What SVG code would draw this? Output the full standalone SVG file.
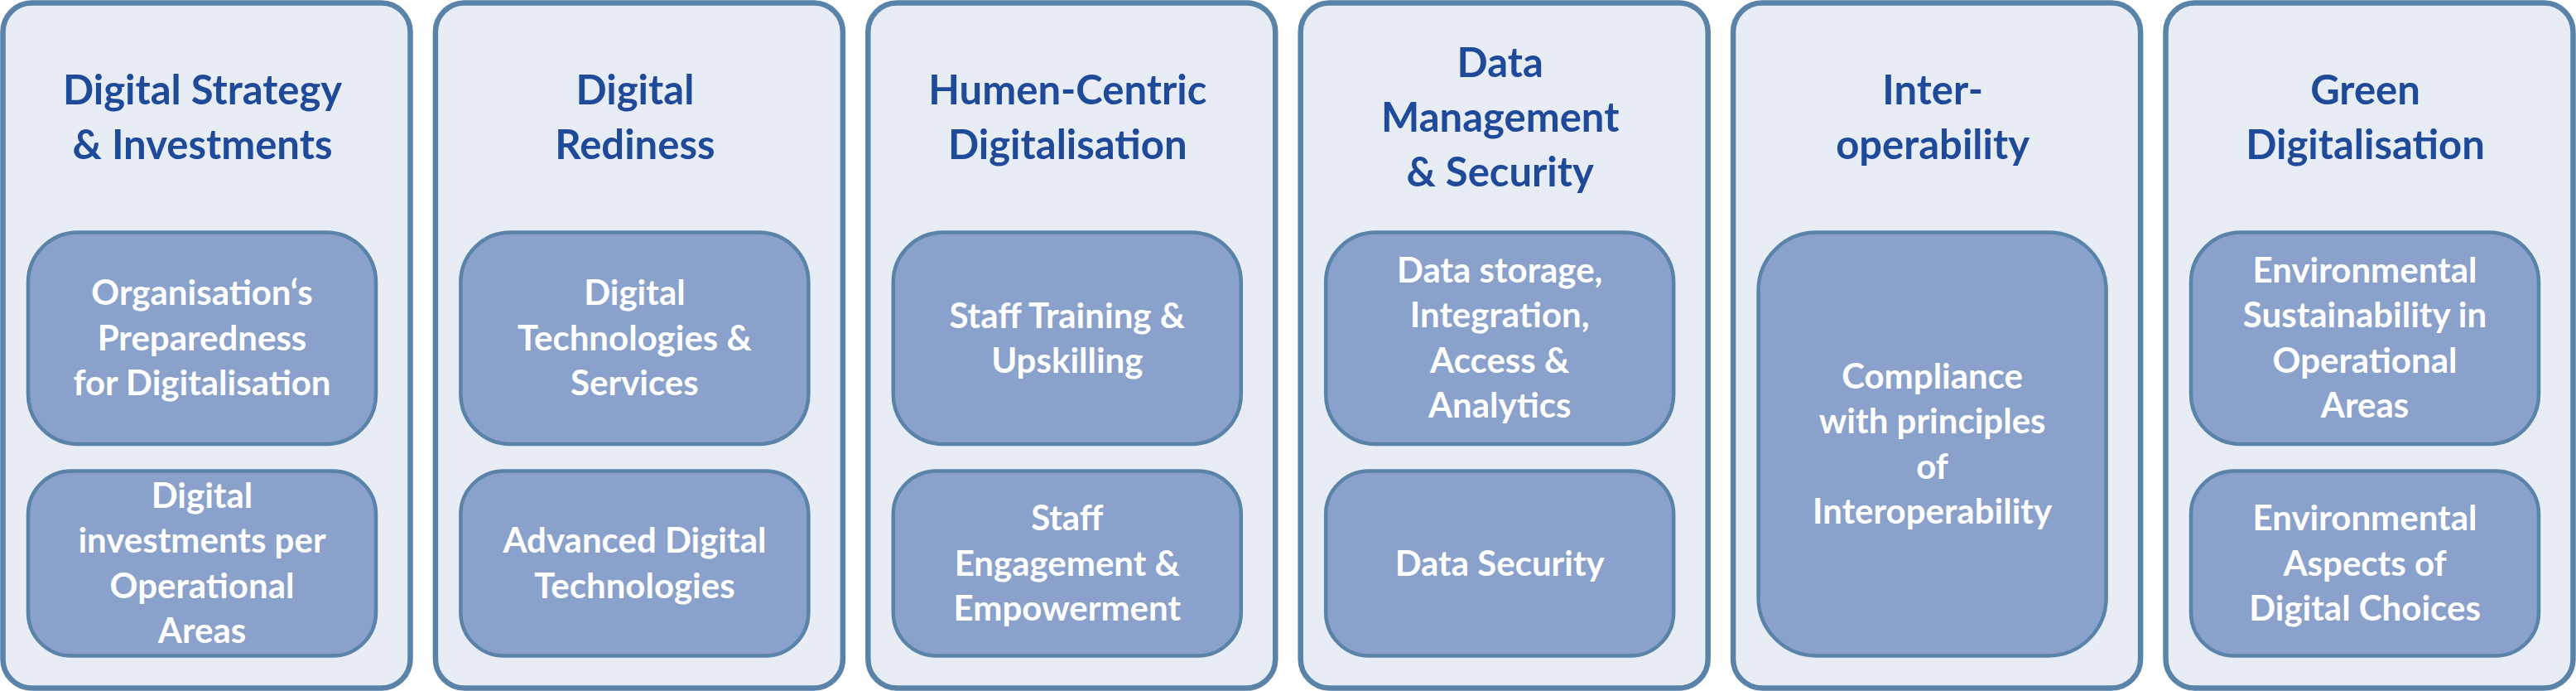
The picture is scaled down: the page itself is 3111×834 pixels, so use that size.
<svg xmlns="http://www.w3.org/2000/svg" width="3111" height="834" viewBox="0 0 3111 834">
<style>
.col{fill:#E8ECF5;stroke:#5A83AA;stroke-width:6.5}
.box{fill:#8AA1CB;stroke:#5A83AA;stroke-width:4.5}
.t{font-family:Lato,"Liberation Sans",sans-serif;font-weight:bold;font-size:49px;fill:#1E4A99;text-anchor:middle}
.b{font-family:Lato,"Liberation Sans",sans-serif;font-weight:bold;font-size:42px;fill:#FFFFFF;text-anchor:middle}
</style>
<rect width="3111" height="834" fill="#FFFFFF"/>
<g id="connectors"></g>
<g id="col1">
<rect class="col" x="3.5" y="3.5" width="492" height="827" rx="35"/>
<text class="t"><tspan x="244.5" y="125.7">Digital Strategy</tspan><tspan x="244.5" y="191.7">&amp; Investments</tspan></text>
<g id="col1-box1"><rect class="box" x="34" y="280.5" width="420" height="255.5" rx="60"/>
<text class="b"><tspan x="244" y="368.25">Organisation‘s</tspan><tspan x="244" y="422.75">Preparedness</tspan><tspan x="244" y="477.25">for Digitalisation</tspan></text></g>
<g id="col1-box2"><rect class="box" x="34" y="568.5" width="420" height="223" rx="52"/>
<text class="b"><tspan x="244" y="612.7">Digital</tspan><tspan x="244" y="667.2">investments per</tspan><tspan x="244" y="721.7">Operational</tspan><tspan x="244" y="776.2">Areas</tspan></text></g>
</g>
<g id="col2">
<rect class="col" x="525.9" y="3.5" width="492" height="827" rx="35"/>
<text class="t"><tspan x="766.9" y="125.7">Digital</tspan><tspan x="766.9" y="191.7">Rediness</tspan></text>
<g id="col2-box1"><rect class="box" x="556.4" y="280.5" width="420" height="255.5" rx="60"/>
<text class="b"><tspan x="766.4" y="368.25">Digital</tspan><tspan x="766.4" y="422.75">Technologies &amp;</tspan><tspan x="766.4" y="477.25">Services</tspan></text></g>
<g id="col2-box2"><rect class="box" x="556.4" y="568.5" width="420" height="223" rx="52"/>
<text class="b"><tspan x="766.4" y="667.25">Advanced Digital</tspan><tspan x="766.4" y="721.75">Technologies</tspan></text></g>
</g>
<g id="col3">
<rect class="col" x="1048.3" y="3.5" width="492" height="827" rx="35"/>
<text class="t"><tspan x="1289.3" y="125.7">Humen-Centric</tspan><tspan x="1289.3" y="191.7">Digitalisation</tspan></text>
<g id="col3-box1"><rect class="box" x="1078.8" y="280.5" width="420" height="255.5" rx="60"/>
<text class="b"><tspan x="1288.8" y="395.5">Staff Training &amp;</tspan><tspan x="1288.8" y="450">Upskilling</tspan></text></g>
<g id="col3-box2"><rect class="box" x="1078.8" y="568.5" width="420" height="223" rx="52"/>
<text class="b"><tspan x="1288.8" y="640">Staff</tspan><tspan x="1288.8" y="694.5">Engagement &amp;</tspan><tspan x="1288.8" y="749">Empowerment</tspan></text></g>
</g>
<g id="col4">
<rect class="col" x="1570.7" y="3.5" width="492" height="827" rx="35"/>
<text class="t"><tspan x="1811.7" y="92.7">Data</tspan><tspan x="1811.7" y="158.7">Management</tspan><tspan x="1811.7" y="224.7">&amp; Security</tspan></text>
<g id="col4-box1"><rect class="box" x="1601.2" y="280.5" width="420" height="255.5" rx="60"/>
<text class="b"><tspan x="1811.2" y="340.9">Data storage,</tspan><tspan x="1811.2" y="395.4">Integration,</tspan><tspan x="1811.2" y="449.9">Access &amp;</tspan><tspan x="1811.2" y="504.4">Analytics</tspan></text></g>
<g id="col4-box2"><rect class="box" x="1601.2" y="568.5" width="420" height="223" rx="52"/>
<text class="b"><tspan x="1811.2" y="694.5">Data Security</tspan></text></g>
</g>
<g id="col5">
<rect class="col" x="2093.1" y="3.5" width="492" height="827" rx="35"/>
<text class="t"><tspan x="2334.1" y="125.7">Inter-</tspan><tspan x="2334.1" y="191.7">operability</tspan></text>
<g id="col5-box1"><rect class="box" x="2123.6" y="280.5" width="420" height="511" rx="70"/>
<text class="b"><tspan x="2333.6" y="468.75">Compliance</tspan><tspan x="2333.6" y="523.25">with principles</tspan><tspan x="2333.6" y="577.75">of</tspan><tspan x="2333.6" y="632.25">Interoperability</tspan></text></g>
</g>
<g id="col6">
<rect class="col" x="2615.5" y="3.5" width="492" height="827" rx="35"/>
<text class="t"><tspan x="2856.5" y="125.7">Green</tspan><tspan x="2856.5" y="191.7">Digitalisation</tspan></text>
<g id="col6-box1"><rect class="box" x="2646" y="280.5" width="420" height="255.5" rx="60"/>
<text class="b"><tspan x="2856" y="340.9">Environmental</tspan><tspan x="2856" y="395.4">Sustainability in</tspan><tspan x="2856" y="449.9">Operational</tspan><tspan x="2856" y="504.4">Areas</tspan></text></g>
<g id="col6-box2"><rect class="box" x="2646" y="568.5" width="420" height="223" rx="52"/>
<text class="b"><tspan x="2856" y="640">Environmental</tspan><tspan x="2856" y="694.5">Aspects of</tspan><tspan x="2856" y="749">Digital Choices</tspan></text></g>
</g>
</svg>
